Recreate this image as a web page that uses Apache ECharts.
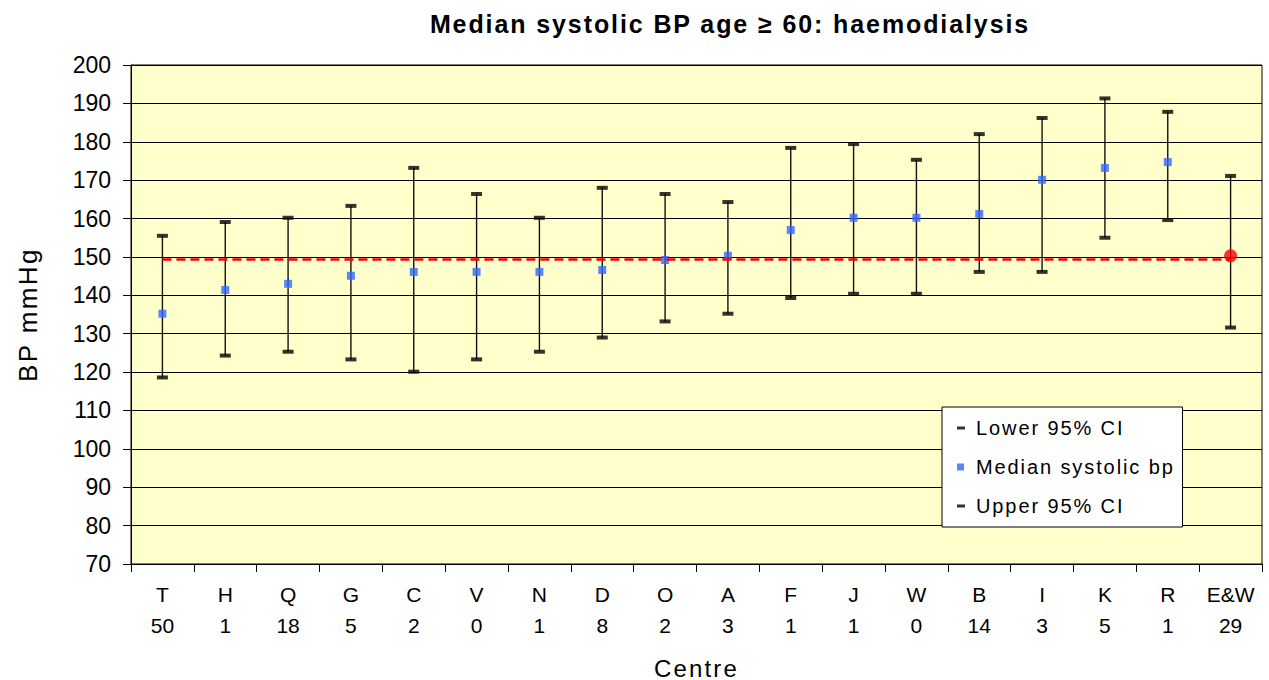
<!DOCTYPE html>
<html>
<head>
<meta charset="utf-8">
<script src="https://cdn.jsdelivr.net/npm/echarts@6/dist/echarts.min.js"></script>
<style>
	body { margin: 0; background: #fff; }
	#chart { width: 1269px; height: 680px; }
	/* the old chart spreads its letters a bit */
	#chart text[style*="bold"] { letter-spacing: 1.9px; }
	#chart text[style*="20px"] { letter-spacing: 1.9px; }
	#chart text[style*="24px"] { letter-spacing: 2.2px; }
	#chart text[style*="26px"] { letter-spacing: 2.4px; }
</style>
</head>
<body>
<div id="chart"></div>
<script>
var centres = ['T', 'H', 'Q', 'G', 'C', 'V', 'N', 'D', 'O', 'A', 'F', 'J', 'W', 'B', 'I', 'K', 'R', 'E&W'];
var counts = [50, 1, 18, 5, 2, 0, 1, 8, 2, 3, 1, 1, 0, 14, 3, 5, 1, 29];
var median = [135.2, 141.4, 143.0, 145.1, 146.1, 146.1, 146.1, 146.6, 149.2, 150.3, 157.0, 160.2, 160.2, 161.2, 170.1, 173.2, 174.7, 150.3];
var lower = [118.6, 124.3, 125.3, 123.3, 120.1, 123.3, 125.3, 129.0, 133.2, 135.2, 139.3, 140.4, 140.4, 146.1, 146.1, 155.0, 159.6, 131.6];
var upper = [155.5, 159.1, 160.2, 163.3, 173.2, 166.4, 160.2, 168.0, 166.4, 164.3, 178.4, 179.4, 175.3, 182.0, 186.2, 191.3, 187.8, 171.1];
var nationalMedian = 149.3;
var yTicks = [70, 200, 10]; // min, max, step

$ready();

function $ready(){
	var dom = document.getElementById("chart");
	var myChart = echarts.init(dom, null, {renderer: 'svg'});
	var option = null;

	var labels = centres.map(function (c, i) { return c + '\n' + counts[i]; });
	var whiskers = centres.map(function (c, i) { return [i, lower[i], upper[i]]; });
	var medianData = median.map(function (v, i) {
		if (centres[i] === 'E&W') {
			return {value: v, symbol: 'circle', symbolSize: 13, itemStyle: {color: '#FF0000'}};
		}
		return v;
	});

	option = {
		animation: false,
		backgroundColor: '#fff',
		textStyle: {fontFamily: 'Liberation Sans', color: '#000'},
		title: {
			text: 'Median systolic BP age \u2265 60: haemodialysis',
			left: 725,
			top: 6,
			textAlign: 'center',
			textStyle: {fontSize: 25, fontWeight: 'bold', color: '#000', fontFamily: 'Liberation Sans'}
		},
		legend: {
			orient: 'vertical',
			left: 942,
			top: 407,
			padding: [11, 42, 11, 15],
			itemGap: 19,
			itemWidth: 14,
			itemHeight: 10,
			backgroundColor: '#fff',
			borderColor: '#000',
			borderWidth: 1,
			borderRadius: 0,
			textStyle: {fontSize: 20, color: '#000', fontFamily: 'Liberation Sans'},
			data: [
				{name: 'Lower 95% CI', icon: 'path://M0,0M0,3.5h8v3h-8zM14,10'},
				{name: 'Median systolic bp', icon: 'path://M0,0M0,1.5h7v7h-7zM14,10'},
				{name: 'Upper 95% CI', icon: 'path://M0,0M0,3.5h8v3h-8zM14,10'}
			]
		},
		grid: {
			left: 131,
			right: 7,
			top: 65,
			bottom: 116,
			show: true,
			backgroundColor: '#FFFFCC',
			borderColor: '#000',
			borderWidth: 1,
			outerBoundsMode: 'none'
		},
		xAxis: {
			type: 'category',
			data: labels,
			boundaryGap: true,
			name: 'Centre',
			nameLocation: 'middle',
			nameGap: 92,
			nameMoveOverlap: false,
			nameTextStyle: {fontSize: 24, color: '#000', fontFamily: 'Liberation Sans'},
			axisLine: {show: true, lineStyle: {color: '#000', width: 1}},
			axisTick: {show: true, length: 8, lineStyle: {color: '#000'}},
			axisLabel: {
				interval: 0,
				margin: 15,
				fontSize: 21,
				lineHeight: 31,
				color: '#000',
				fontFamily: 'Liberation Sans'
			},
			splitLine: {show: false}
		},
		yAxis: {
			type: 'value',
			min: yTicks[0],
			max: yTicks[1],
			interval: yTicks[2],
			name: 'BP mmHg',
			nameLocation: 'middle',
			nameGap: 90,
			nameRotate: 90,
			nameMoveOverlap: false,
			nameTextStyle: {fontSize: 26, color: '#000', fontFamily: 'Liberation Sans'},
			axisLine: {show: true, lineStyle: {color: '#000', width: 1}},
			axisTick: {show: true, length: 8, lineStyle: {color: '#000'}},
			axisLabel: {margin: 20, fontSize: 23, color: '#000', fontFamily: 'Liberation Sans'},
			splitLine: {show: true, lineStyle: {color: '#000', width: 1}}
		},
		series: [{
			name: 'CI',
			type: 'custom',
			z: 2,
			data: whiskers,
			encode: {x: 0, y: [1, 2]},
			renderItem: function (params, api) {
				var x = api.value(0);
				var lo = api.coord([x, api.value(1)]);
				var hi = api.coord([x, api.value(2)]);
				return {
					type: 'line',
					shape: {x1: lo[0], y1: lo[1], x2: hi[0], y2: hi[1]},
					style: {stroke: '#111', lineWidth: 1.4}
				};
			},
			markLine: {
				silent: true,
				symbol: 'none',
				label: {show: false},
				lineStyle: {color: '#FF0000', type: [9, 5], width: 2.5},
				data: [[{coord: [0, nationalMedian]}, {coord: [centres.length - 1, nationalMedian]}]]
			}
		}, {
			name: 'Lower 95% CI',
			type: 'scatter',
			z: 3,
			symbol: 'rect',
			symbolSize: [11, 4],
			itemStyle: {color: '#000'},
			data: lower
		}, {
			name: 'Upper 95% CI',
			type: 'scatter',
			z: 3,
			symbol: 'rect',
			symbolSize: [11, 4],
			itemStyle: {color: '#000'},
			data: upper
		}, {
			name: 'Median systolic bp',
			type: 'scatter',
			z: 4,
			symbol: 'rect',
			symbolSize: 8,
			itemStyle: {color: '#3366FF'},
			data: medianData
		}]
	};
	if (option && typeof option === "object") {
		myChart.setOption(option, true);
	}
}
</script>
</body>
</html>
